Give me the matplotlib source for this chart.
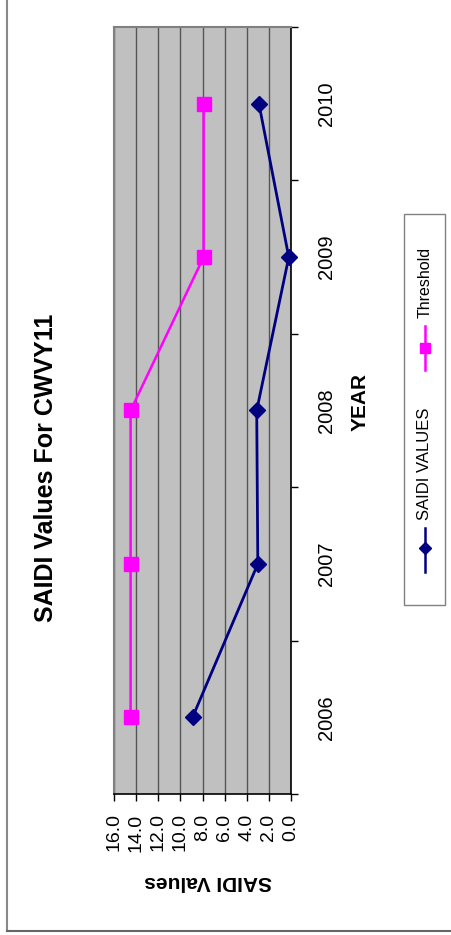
import matplotlib
matplotlib.use("Agg")
import matplotlib.pyplot as plt
from matplotlib.lines import Line2D
from matplotlib.patches import Rectangle
from matplotlib.ticker import FixedLocator, NullFormatter
import numpy as np

plt.rcParams['font.family'] = ['Liberation Sans', 'DejaVu Sans']

# Data
years = ["2006", "2007", "2008", "2009", "2010"]
saidi_values = [8.9, 3.0, 3.1, 0.2, 2.9]
threshold = [14.5, 14.5, 14.5, 7.9, 7.9]
value_ticks = [0, 2, 4, 6, 8, 10, 12, 14, 16]

W, H = 452, 935
fig = plt.figure(figsize=(W / 100, H / 100), dpi=100)


def fx(x):
    return x / W


def fy(y):
    return 1 - y / H


NAVY = "#000080"
MAGENTA = "#FF00FF"

# Chart rotated a quarter turn: values run right-to-left, years bottom-to-top
ax = fig.add_axes([fx(114), fy(794), 177 / W, 767 / H])
ax.set_facecolor("#C0C0C0")

pos = np.arange(len(years))
ax.plot(saidi_values, pos, color=NAVY, lw=2.0, marker="D", markersize=8.5,
        markerfacecolor=NAVY, markeredgecolor=NAVY, zorder=3, clip_on=False)
ax.plot(threshold, pos, color=MAGENTA, lw=1.8, marker="s", markersize=10,
        markerfacecolor=MAGENTA, markeredgecolor=MAGENTA, zorder=3, clip_on=False)

ax.set_xlim(16, 0)
ax.set_ylim(-0.5, len(years) - 0.5)

ax.set_xticks(value_ticks)
ax.set_xticklabels([f"{v:.1f}" for v in value_ticks], rotation=90)
ax.tick_params(axis="x", direction="out", length=5, width=1, color="black",
               labelsize=14, pad=9)
ax.grid(axis="x", color="#555555", lw=1.0)
ax.grid(axis="y", visible=False)
ax.set_axisbelow(True)

ax.yaxis.tick_right()
ax.yaxis.set_major_locator(FixedLocator(np.arange(-0.5, len(years), 1.0)))
ax.yaxis.set_major_formatter(NullFormatter())
ax.yaxis.set_minor_locator(FixedLocator(pos))
ax.set_yticks(pos, minor=True)
ax.set_yticklabels(years, minor=True, rotation=90, va="center")
ax.tick_params(axis="y", which="major", direction="out", length=5, width=1,
               color="black", right=True, left=False)
ax.tick_params(axis="y", which="minor", length=0, labelsize=14.5, pad=19,
               right=True, left=False)

for side in ("left", "top"):
    ax.spines[side].set_color("#808080")
    ax.spines[side].set_linewidth(1.5)
for side in ("right", "bottom"):
    ax.spines[side].set_color("black")
    ax.spines[side].set_linewidth(1.2)

# Titles
fig.text(fx(46), fy(468), "SAIDI Values For CWVY11", rotation=90,
         ha="center", va="center", fontsize=18, fontweight="bold")
fig.text(fx(208), fy(882), "SAIDI Values", rotation=180,
         ha="center", va="center", fontsize=15, fontweight="bold")
fig.text(fx(360), fy(402), "YEAR", rotation=90,
         ha="center", va="center", fontsize=15, fontweight="bold")

# Legend box
fig.add_artist(Rectangle((fx(404), fy(605)), 41 / W, 391 / H,
                         transform=fig.transFigure, facecolor="white",
                         edgecolor="#808080", lw=1.0))
lx = fx(425)
fig.add_artist(Line2D([lx, lx], [fy(572), fy(528)], transform=fig.transFigure,
                      color=NAVY, lw=1.8))
fig.add_artist(Line2D([lx], [fy(548)], transform=fig.transFigure, color=NAVY,
                      marker="D", markersize=6, linestyle="none"))
fig.text(lx, fy(520), "SAIDI VALUES", rotation=90, ha="center", va="bottom",
         fontsize=12)
fig.add_artist(Line2D([lx, lx], [fy(370), fy(326)], transform=fig.transFigure,
                      color=MAGENTA, lw=1.8))
fig.add_artist(Line2D([lx], [fy(348)], transform=fig.transFigure, color=MAGENTA,
                      marker="s", markersize=7, linestyle="none"))
fig.text(lx, fy(318), "Threshold", rotation=90, ha="center", va="bottom",
         fontsize=11.5)

# Outer chart frame (left and bottom edges)
fig.add_artist(Line2D([fx(7), fx(7)], [fy(0), fy(931)], transform=fig.transFigure,
                      color="#888888", lw=1.5))
fig.add_artist(Line2D([fx(7), fx(452)], [fy(931), fy(931)], transform=fig.transFigure,
                      color="#666666", lw=1.5))

fig.savefig("out.png", dpi=100, facecolor="white")
